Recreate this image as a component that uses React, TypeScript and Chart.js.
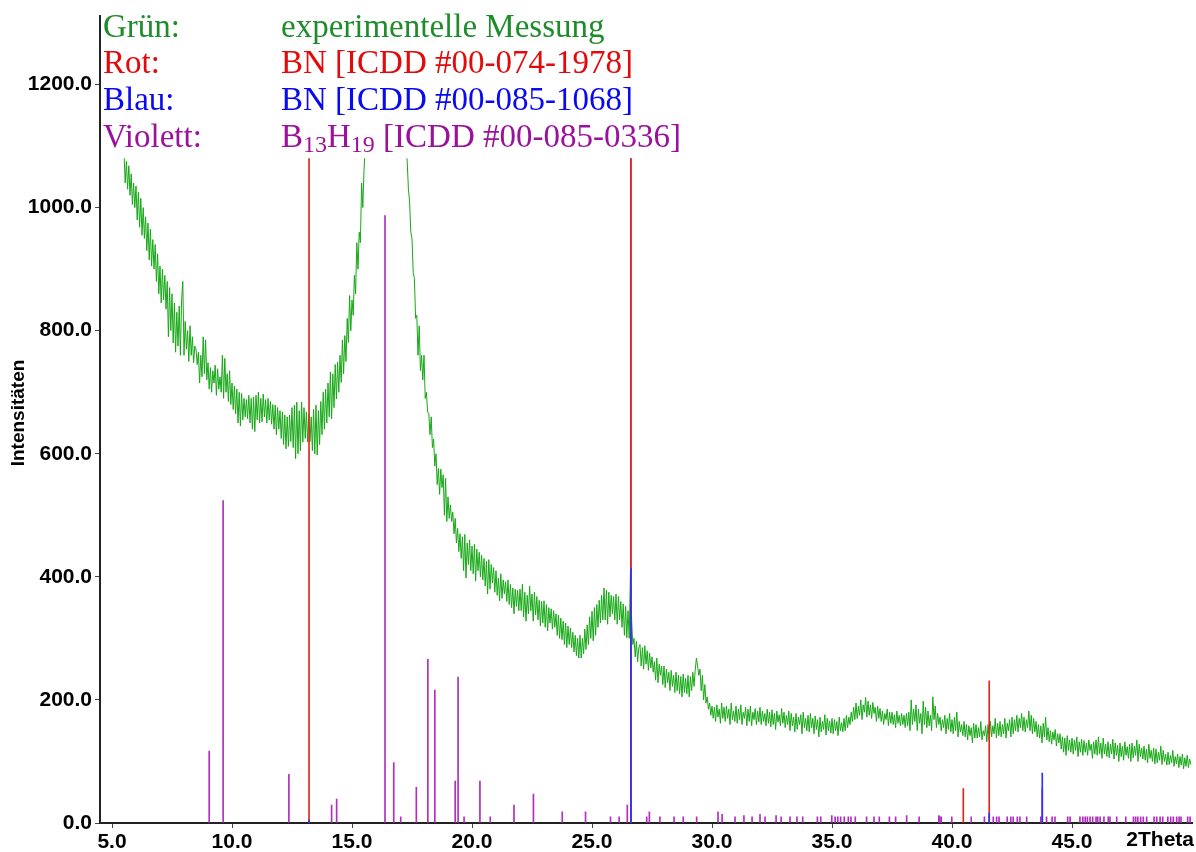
import React, { useEffect, useRef } from 'react';
import { Chart, registerables } from 'chart.js';

Chart.register(...registerables);

// ---- measured pattern (green): 2Theta start, step, intensities ----
const TWO_THETA_START = 5.5;
const TWO_THETA_STEP = 0.05;
const INTENSITY: number[] = [
  1090, 1040, 1075, 1030, 1068, 1020, 1055, 1005, 1040, 1000,
  1035, 980, 1025, 968, 1015, 955, 1000, 950, 985, 930,
  975, 915, 965, 905, 948, 900, 940, 880, 925, 860,
  905, 845, 900, 850, 890, 835, 880, 790, 870, 800,
  860, 780, 845, 765, 830, 775, 840, 760, 850, 880,
  760, 815, 770, 800, 750, 808, 760, 790, 748, 775,
  770, 745, 765, 715, 760, 725, 790, 730, 785, 720,
  748, 705, 740, 700, 735, 715, 744, 695, 738, 705,
  725, 700, 760, 690, 755, 700, 730, 685, 735, 680,
  715, 672, 710, 665, 705, 650, 700, 645, 698, 655,
  690, 660, 688, 657, 695, 650, 690, 640, 692, 636,
  695, 655, 700, 650, 690, 652, 697, 660, 688, 650,
  690, 655, 685, 648, 680, 640, 679, 631, 675, 640,
  670, 625, 668, 615, 663, 608, 660, 612, 663, 620,
  675, 610, 679, 592, 684, 600, 670, 605, 684, 619,
  675, 625, 668, 619, 665, 620, 660, 605, 672, 600,
  679, 598, 670, 615, 685, 631, 700, 640, 705, 650,
  715, 660, 733, 657, 730, 675, 745, 689, 749, 700,
  760, 716, 785, 730, 792, 750, 820, 781, 857, 800,
  850, 825, 890, 860, 943, 900, 960, 943, 1040, 1000,
  1060, 1100, 1130, 1160, 1200, 1230, 1260, 1290, 1320, 1340,
  1360, 1380, 1400, 1420, 1430, 1440, 1450, 1450, 1450, 1445,
  1440, 1430, 1415, 1400, 1385, 1370, 1350, 1330, 1310, 1285,
  1250, 1210, 1180, 1150, 1120, 1100, 1075, 1030, 1010, 960,
  950, 895, 885, 820, 825, 760, 808, 735, 760, 720,
  760, 690, 700, 668, 665, 631, 660, 610, 624, 580,
  600, 550, 576, 534, 575, 545, 566, 500, 560, 490,
  530, 495, 517, 490, 505, 470, 495, 455, 479, 441,
  470, 430, 465, 410, 469, 398, 455, 420, 460, 410,
  450, 405, 453, 393, 445, 410, 440, 400, 435, 395,
  430, 385, 425, 372, 428, 380, 420, 390, 415, 375,
  410, 370, 398, 361, 405, 365, 395, 372, 392, 360,
  395, 355, 388, 350, 382, 340, 380, 352, 378, 345,
  380, 345, 388, 335, 375, 328, 370, 340, 385, 345,
  372, 328, 375, 338, 368, 330, 362, 320, 360, 325,
  361, 318, 355, 312, 350, 325, 348, 315, 345, 318,
  340, 305, 338, 300, 333, 298, 328, 290, 325, 285,
  320, 290, 317, 285, 310, 278, 305, 272, 300, 268,
  305, 268, 300, 275, 315, 282, 322, 290, 335, 300,
  344, 296, 350, 305, 355, 318, 362, 325, 370, 330,
  382, 330, 378, 323, 375, 335, 370, 340, 368, 330,
  372, 323, 368, 330, 360, 318, 356, 305, 352, 301,
  345, 300, 404, 330, 290, 300, 270, 295, 262, 285,
  290, 255, 285, 250, 288, 258, 280, 248, 276, 252,
  270, 245, 262, 232, 268, 228, 258, 240, 255, 225,
  255, 220, 250, 228, 245, 215, 248, 222, 240, 212,
  245, 215, 240, 210, 238, 205, 242, 212, 235, 210,
  240, 205, 238, 215, 245, 222, 248, 268, 255, 240,
  250, 215, 240, 200, 225, 195, 205, 185, 195, 175,
  190, 170, 188, 165, 192, 172, 185, 162, 195, 170,
  188, 165, 190, 170, 185, 160, 195, 168, 182, 165,
  190, 162, 185, 168, 192, 160, 180, 170, 188, 158,
  185, 165, 190, 158, 180, 168, 186, 160, 182, 164,
  188, 160, 182, 165, 178, 158, 185, 162, 180, 156,
  184, 160, 178, 152, 182, 164, 176, 158, 186, 162,
  180, 155, 175, 160, 182, 150, 178, 158, 172, 148,
  178, 152, 172, 160, 176, 145, 180, 155, 170, 150,
  175, 148, 178, 155, 170, 145, 174, 152, 168, 140,
  172, 148, 165, 152, 176, 143, 170, 150, 166, 146,
  170, 145, 168, 150, 165, 142, 172, 150, 163, 148,
  170, 150, 175, 155, 172, 160, 180, 165, 188, 168,
  195, 170, 190, 175, 200, 168, 192, 180, 204, 172,
  198, 175, 192, 170, 196, 178, 188, 165, 190, 170,
  186, 165, 182, 160, 178, 168, 185, 158, 180, 162,
  180, 160, 176, 155, 182, 162, 175, 158, 178, 160,
  175, 155, 178, 158, 180, 150, 200, 160, 185, 165,
  192, 150, 185, 162, 178, 145, 198, 160, 188, 155,
  182, 158, 175, 150, 205, 168, 190, 155, 178, 160,
  172, 150, 168, 155, 175, 145, 170, 152, 178, 148,
  168, 145, 172, 150, 180, 140, 165, 148, 160, 142,
  165, 140, 160, 135, 158, 142, 155, 130, 162, 138,
  160, 138, 155, 140, 165, 135, 150, 142, 158, 132,
  160, 135, 165, 140, 158, 145, 170, 138, 162, 142,
  165, 140, 160, 145, 170, 138, 162, 150, 168, 140,
  172, 145, 168, 150, 175, 148, 170, 155, 178, 150,
  172, 148, 168, 155, 182, 150, 175, 145, 170, 148,
  165, 140, 160, 138, 158, 130, 162, 140, 172, 135,
  155, 132, 150, 128, 148, 135, 152, 125, 145, 130,
  145, 120, 140, 115, 138, 110, 142, 118, 135, 115,
  138, 112, 135, 118, 140, 108, 132, 115, 136, 110,
  134, 115, 130, 110, 135, 118, 128, 105, 132, 112,
  135, 110, 140, 112, 130, 105, 138, 112, 128, 108,
  132, 106, 128, 112, 136, 104, 130, 110, 126, 100,
  130, 108, 125, 102, 132, 110, 124, 105, 128, 100,
  130, 106, 125, 110, 135, 100, 128, 108, 122, 104,
  125, 102, 120, 98, 128, 105, 118, 100, 122, 96,
  120, 98, 115, 102, 125, 95, 118, 100, 112, 94,
  115, 95, 110, 98, 118, 92, 108, 96, 112, 90,
  108, 94, 112, 88, 106, 92, 110, 90, 104, 95,
];

// ---- reference stick patterns ----
const RED_POS = [13.21, 26.62, 40.47, 41.55];
const RED_INT = [1300, 1300, 56, 231];
const BLUE_POS = [13.21, 26.62, 41.55, 43.76];
const BLUE_INT = [5, 414, 16, 81];
const VIOLET_POS = [
  9.05, 9.63, 12.37, 14.15, 14.36, 16.375, 16.74, 17.03, 17.68, 18.16,
  18.45, 19.3, 19.42, 19.67, 20.33, 20.76, 21.75, 22.56, 23.76, 24.73,
  25.77, 26.13, 26.47, 26.62, 27.28, 27.39, 27.83, 28.42, 28.8, 29.36,
  30.25, 30.42, 30.96, 31.33, 31.67, 32.0, 32.21, 32.67, 32.88, 33.25,
  33.54, 33.78, 34.39, 34.53, 34.99, 35.13, 35.24, 35.36, 35.51, 35.68,
  35.79, 35.97, 36.44, 36.75, 36.97, 37.39, 37.65, 38.11, 38.63, 39.45,
  39.5, 39.55, 39.99, 40.8, 41.35, 41.72, 41.86, 41.96, 42.3, 42.45,
  42.55, 42.72, 42.83, 43.11, 43.7, 43.76, 43.94, 44.17, 44.29, 44.82,
  44.92, 45.33, 45.45, 45.55, 45.64, 45.75, 45.86, 46.0, 46.07, 46.17,
  46.33, 46.51, 46.58, 46.86, 47.24, 47.56, 47.65, 47.74, 47.86, 47.97,
  48.11, 48.42, 48.53, 48.67, 48.78, 48.99, 49.11, 49.22, 49.36, 49.46,
  49.54, 49.82, 49.92,
];
const VIOLET_INT = [
  117, 524, 79, 29, 39, 987, 98, 10, 58, 266,
  216, 68, 237, 10, 68, 10, 29, 47, 18, 18,
  10, 10, 29, 1300, 10, 18, 10, 10, 10, 10,
  18, 14, 10, 12, 10, 14, 10, 12, 10, 10,
  10, 10, 10, 10, 12, 10, 10, 10, 10, 10,
  10, 10, 10, 10, 10, 10, 10, 12, 10, 12,
  10, 10, 10, 10, 10, 10, 10, 10, 10, 10,
  10, 10, 10, 10, 10, 55, 10, 10, 10, 10,
  10, 10, 10, 10, 10, 10, 10, 10, 10, 10,
  10, 10, 10, 10, 10, 10, 10, 10, 10, 10,
  10, 10, 10, 10, 10, 10, 10, 10, 10, 10,
  10, 10, 10,
];

// ---- axes ----
const X_MIN = 4.5;
const X_MAX = 49.999;
const Y_MAX = 1312;
const CLIP_VALUE = 1080;
const X_TICK_STEP = 5;
const Y_TICK_STEP = 200;
const X_AXIS_NAME = '2Theta';
const Y_AXIS_NAME = 'Intensitäten';

// ---- legend text ----
const LEGEND_LABELS = ['Grün:', 'Rot:', 'Blau:', 'Violett:'];
const LEGEND_COLORS = ['#1f8c2c', '#e20a0a', '#0a0af2', '#9c119c'];
const LEGEND_TEXTS: Array<Array<[string, boolean]>> = [
  [['experimentelle Messung', false]],
  [['BN [ICDD #00-074-1978]', false]],
  [['BN [ICDD #00-085-1068]', false]],
  [['B', false], ['13', true], ['H', false], ['19', true], [' [ICDD #00-085-0336]', false]],
];

const TICK_FONT = 'Arial, "Liberation Sans", sans-serif';
const SERIF = '"Liberation Serif", "Times New Roman", serif';

function sticks(pos: number[], ints: number[]) {
  return pos.map((x, i) => ({ x, y: ints[i] }));
}

export default function App() {
  const ref = useRef<HTMLCanvasElement | null>(null);

  useEffect(() => {
    const canvas = ref.current;
    if (!canvas) return;

    const green = INTENSITY.map((y, i) => ({
      x: Math.round((TWO_THETA_START + i * TWO_THETA_STEP) * 1000) / 1000,
      y,
    }));

    const clipPlugin = {
      id: 'clipTop',
      beforeDatasetsDraw(chart: any) {
        const { ctx, chartArea, scales } = chart;
        const yTop = scales.y.getPixelForValue(CLIP_VALUE);
        ctx.save();
        ctx.beginPath();
        ctx.rect(chartArea.left, yTop, chartArea.right - chartArea.left, chartArea.bottom - yTop + 2);
        ctx.clip();
      },
      afterDatasetsDraw(chart: any) {
        chart.ctx.restore();
      },
    };

    const textPlugin = {
      id: 'texts',
      afterDraw(chart: any) {
        const { ctx } = chart;
        ctx.save();
        ctx.textBaseline = 'alphabetic';
        ctx.textAlign = 'left';
        for (let i = 0; i < LEGEND_LABELS.length; i++) {
          const base = 36.5 + i * 36.9;
          ctx.fillStyle = LEGEND_COLORS[i];
          ctx.font = `33px ${SERIF}`;
          ctx.fillText(LEGEND_LABELS[i], 103, base);
          let x = 281;
          for (const [t, sub] of LEGEND_TEXTS[i]) {
            ctx.font = sub ? `24px ${SERIF}` : `33px ${SERIF}`;
            ctx.fillText(t, x, sub ? base + 5 : base);
            x += ctx.measureText(t).width;
          }
        }
        ctx.fillStyle = '#000';
        ctx.font = `bold 21px ${TICK_FONT}`;
        ctx.textAlign = 'right';
        ctx.textBaseline = 'middle';
        ctx.fillText(X_AXIS_NAME, 1194, 840);
        ctx.translate(19, 413);
        ctx.rotate(-Math.PI / 2);
        ctx.textAlign = 'center';
        ctx.textBaseline = 'middle';
        ctx.font = `bold 19px ${TICK_FONT}`;
        ctx.fillText(Y_AXIS_NAME, 0, 0);
        ctx.restore();
      },
    };

    const barCommon = {
      type: 'bar' as const,
      grouped: false,
      maxBarThickness: 1,
      barPercentage: 1,
      categoryPercentage: 1,
      borderWidth: 0,
    };

    const chart = new Chart(canvas, {
      type: 'line',
      data: {
        datasets: [
          { ...barCommon, label: 'Blau', data: sticks(BLUE_POS, BLUE_INT), backgroundColor: '#2434ff', order: 0 } as any,
          { ...barCommon, label: 'Rot', data: sticks(RED_POS, RED_INT), backgroundColor: '#e3261a', order: 1 } as any,
          { ...barCommon, label: 'Violett', data: sticks(VIOLET_POS, VIOLET_INT), backgroundColor: '#b02ec0', order: 2 } as any,
          {
            type: 'line',
            label: 'Grün',
            data: green,
            borderColor: '#16a816',
            borderWidth: 1,
            pointRadius: 0,
            tension: 0,
            fill: false,
            order: 3,
          } as any,
        ],
      },
      options: {
        responsive: false,
        animation: false,
        devicePixelRatio: 1,
        layout: { padding: { top: 12, right: 4, left: 0, bottom: 0 } },
        plugins: { legend: { display: false }, tooltip: { enabled: false } },
        scales: {
          x: {
            type: 'linear',
            min: X_MIN,
            max: X_MAX,
            offset: false,
            afterFit: (s: any) => { s.height = 29; },
            grid: { offset: false, drawOnChartArea: false, drawTicks: true, tickLength: 5, color: '#444' },
            border: { display: true, color: '#222', width: 2 },
            ticks: {
              stepSize: X_TICK_STEP,
              includeBounds: false,
              autoSkip: false,
              maxRotation: 0,
              padding: 2,
              color: '#000',
              font: { family: TICK_FONT, weight: 'bold', size: 21 },
              callback: (v: any) => Number(v).toFixed(1),
            },
          },
          y: {
            type: 'linear',
            min: 0,
            max: Y_MAX,
            afterFit: (s: any) => { s.width = 100; },
            grid: { offset: false, drawOnChartArea: false, drawTicks: true, tickLength: 5, color: '#444' },
            border: { display: true, color: '#222', width: 2 },
            ticks: {
              stepSize: Y_TICK_STEP,
              includeBounds: false,
              padding: 3,
              color: '#000',
              font: { family: TICK_FONT, weight: 'bold', size: 21 },
              callback: (v: any) => Number(v).toFixed(1),
            },
          },
        },
      } as any,
      plugins: [clipPlugin, textPlugin],
    });

    return () => chart.destroy();
  }, []);

  return (
    <div style={{ position: 'absolute', left: 0, top: 0, width: 1196, height: 852, background: '#fff' }}>
      <canvas ref={ref} width={1196} height={852} style={{ display: 'block', width: 1196, height: 852 }} />
    </div>
  );
}
